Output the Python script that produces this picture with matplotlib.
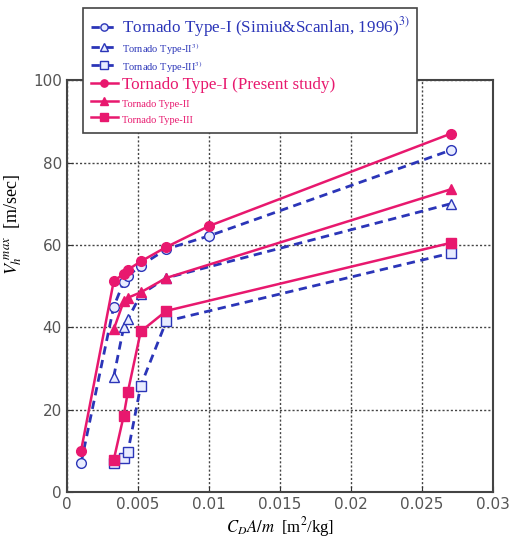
import matplotlib
matplotlib.use("Agg")
import matplotlib.pyplot as plt

plt.rcParams['mathtext.fontset'] = 'stix'

# Simiu & Scanlan (1996) - blue dashed, open markers
x_ss1 = [0.001, 0.0033, 0.004, 0.0043, 0.0052, 0.007, 0.01, 0.027]
v_ss1 = [7, 45, 51, 52.5, 55, 59, 62.2, 83]
x_ss2 = [0.0033, 0.004, 0.0043, 0.0052, 0.007, 0.027]
v_ss2 = [28, 40, 42, 48, 52, 70]
x_ss3 = [0.0033, 0.004, 0.0043, 0.0052, 0.007, 0.027]
v_ss3 = [7, 8.3, 9.8, 25.8, 41.5, 58]

# present study - pink solid, filled markers
x_ps1 = [0.001, 0.0033, 0.004, 0.0043, 0.0052, 0.007, 0.01, 0.027]
v_ps1 = [10, 51.2, 53, 54, 56, 59.5, 64.6, 87]
x_ps2 = [0.0033, 0.004, 0.0043, 0.0052, 0.007, 0.027]
v_ps2 = [39.5, 46.3, 47.2, 48.5, 52, 73.5]
x_ps3 = [0.0033, 0.004, 0.0043, 0.0052, 0.007, 0.027]
v_ps3 = [7.8, 18.5, 24.4, 39, 44, 60.5]

labels = ['Tornado Type-I (Simiu&Scanlan, 1996)$^{3)}$',
          'Tornado Type-II$^{3)}$',
          'Tornado Type-III$^{3)}$',
          'Tornado Type-I (Present study)',
          'Tornado Type-II',
          'Tornado Type-III']
label_sizes = [12.3, 7.5, 7.5, 12.3, 7.5, 7.5]

blue = '#2b35b8'
pink = '#e8186e'

fig = plt.figure(figsize=(5.1, 5.42), dpi=100)
ax = fig.add_axes([0.131, 0.092, 0.836, 0.760])

lines = []
for xs, vs, m in [(x_ss1, v_ss1, 'o'), (x_ss2, v_ss2, '^'), (x_ss3, v_ss3, 's')]:
    l, = ax.plot(xs, vs, color=blue, ls=(0, (3, 2)), lw=2, marker=m, ms=7,
                 mfc='#e8ecff', mec=blue, mew=1, zorder=3)
    lines.append(l)
for xs, vs, m in [(x_ps1, v_ps1, 'o'), (x_ps2, v_ps2, '^'), (x_ps3, v_ps3, 's')]:
    l, = ax.plot(xs, vs, color=pink, ls='-', lw=1.8, marker=m, ms=7,
                 mfc=pink, mec=pink, zorder=4)
    lines.append(l)

ax.set_xlim(0, 0.03)
ax.set_ylim(0, 100)
ax.set_xticks([0, 0.005, 0.01, 0.015, 0.02, 0.025, 0.03])
ax.set_xticklabels(['0', '0.005', '0.01', '0.015', '0.02', '0.025', '0.03'])
ax.set_yticks([0, 20, 40, 60, 80, 100])
ax.tick_params(direction='in', length=4, labelsize=11, labelcolor='#555555', color='#333333')
ax.grid(True, ls=(0, (1.5, 1.5)), color='#444444', lw=1)
for s in ax.spines.values():
    s.set_linewidth(1.5)
    s.set_color('#444444')

ax.set_xlabel(r'$C_D A/m$  [m$^2$/kg]', fontsize=12, family='Liberation Serif', labelpad=2)
ax.set_ylabel(r'$V_h^{\ max}$  [m/sec]', fontsize=13, family='Liberation Serif')
ax.yaxis.set_label_coords(-0.1, 0.65)

leg = fig.legend(lines, labels, loc='upper left', bbox_to_anchor=(0.163, 0.986),
                 frameon=True, fancybox=False, edgecolor='#444444', framealpha=1,
                 prop={'family': 'Liberation Serif', 'size': 12.3},
                 handlelength=1.6, handletextpad=0.2, labelspacing=0.12,
                 borderpad=0.45, borderaxespad=0, markerscale=0.75)
leg.get_frame().set_linewidth(1.2)
for t, sz, c in zip(leg.get_texts(), label_sizes, [blue] * 3 + [pink] * 3):
    t.set_fontsize(sz)
    t.set_color(c)

fig.savefig('out.png', dpi=100)
